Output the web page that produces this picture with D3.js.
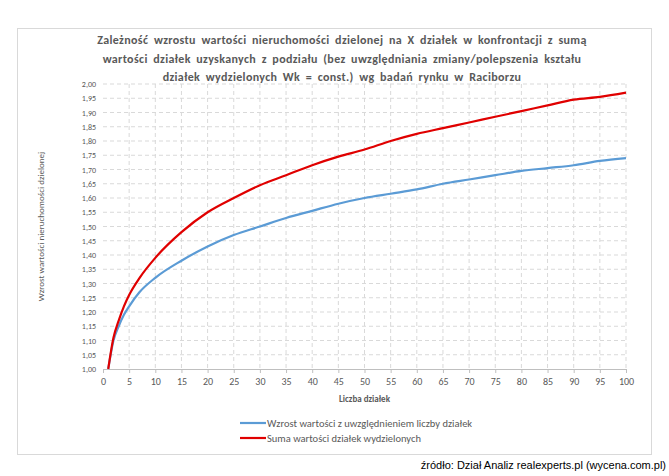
<!DOCTYPE html>
<html><head><meta charset="utf-8">
<script src="https://cdn.jsdelivr.net/npm/d3@7"></script>
<style>body{margin:0;background:#fff}</style>
</head><body><svg id="c" width="669" height="476"></svg>
<script>
// values
const xs      = [1, 2, 3, 4, 5, 7, 10, 15, 20, 25, 30, 35, 40, 45, 50, 55, 60, 65, 70, 75, 80, 85, 90, 95, 100];
const growth  = [1.00, 1.10, 1.15, 1.19, 1.22, 1.27, 1.32, 1.38, 1.43, 1.47, 1.50, 1.53, 1.555, 1.58, 1.60, 1.615, 1.63, 1.65, 1.665, 1.68, 1.695, 1.705, 1.715, 1.73, 1.74];
const sumVals = [1.00, 1.11, 1.17, 1.22, 1.26, 1.32, 1.39, 1.48, 1.55, 1.60, 1.645, 1.68, 1.715, 1.745, 1.77, 1.80, 1.825, 1.845, 1.865, 1.885, 1.905, 1.925, 1.945, 1.955, 1.97];
const seriesNames = ["Wzrost wartości z uwzględnieniem liczby działek", "Suma wartości działek wydzielonych"];
const seriesColors = ["#5b9bd5", "#e00000"];
const titleLines = [
  "Zależność wzrostu wartości nieruchomości dzielonej na X działek w konfrontacji z sumą",
  "wartości działek uzyskanych z podziału (bez uwzględniania zmiany/polepszenia kształu",
  "działek wydzielonych Wk = const.) wg badań rynku w Raciborzu"
];

const svg = d3.select("#c");
const font = "Calibri, 'Liberation Sans', Arial, sans-serif";
svg.append("rect").attr("x", 17.5).attr("y", 28.5).attr("width", 634).attr("height", 426)
   .attr("fill", "#fff").attr("stroke", "#d9d9d9");

svg.append("g").selectAll("text").data(titleLines).join("text")
   .attr("x", 342).attr("y", (d, i) => 44 + i * 18.5).attr("text-anchor", "middle")
   .attr("font-family", font).attr("font-size", 12).attr("font-weight", "bold").attr("fill", "#595959")
   .attr("word-spacing", 2.5).attr("letter-spacing", 0.35)
   .text(d => d);

const x = d3.scaleLinear().domain([0, 100]).range([103, 626]);
const y = d3.scaleLinear().domain([1, 2]).range([369, 84]);

const xt = d3.range(0, 101, 5), yt = d3.range(1, 2.001, 0.05);
const grid = svg.append("g").attr("stroke", "#d9d9d9").attr("stroke-dasharray", "4,3");
grid.selectAll(".v").data(xt.slice(1)).join("line")
    .attr("x1", d => x(d)).attr("x2", d => x(d)).attr("y1", y(2)).attr("y2", y(1));
grid.selectAll(".h").data(yt.slice(1)).join("line")
    .attr("x1", x(0)).attr("x2", x(100)).attr("y1", d => y(d)).attr("y2", d => y(d));

const xa = svg.append("g").attr("transform", `translate(0,${y(1)})`)
   .call(d3.axisBottom(x).tickValues(xt).tickSize(4).tickSizeOuter(0));
const ya = svg.append("g").attr("transform", `translate(${x(0)},0)`)
   .call(d3.axisLeft(y).tickValues(yt).tickSize(0).tickFormat(d => d3.format(".2f")(d).replace(".", ",")));
[xa, ya].forEach(a => {
  a.selectAll("path,line").attr("stroke", "#bfbfbf");
  a.selectAll("text").attr("font-family", font).attr("font-size", a === xa ? 10 : 8).attr("fill", "#595959");
});
ya.select(".domain").remove();
xa.selectAll("text").attr("dy", "0.9em");
ya.selectAll("text").attr("dx", "-4");

svg.append("text").attr("x", x(50)).attr("y", 402).attr("text-anchor", "middle")
   .attr("font-family", font).attr("font-size", 9).attr("font-weight", "bold").attr("fill", "#595959")
   .text("Liczba działek");
svg.append("text").attr("transform", `translate(44,${y(1.5)}) rotate(-90)`).attr("text-anchor", "middle")
   .attr("font-family", font).attr("font-size", 9).attr("fill", "#595959")
   .text("Wzrost wartości nieruchomości dzielonej");

const line = d3.line().x((d, i) => x(xs[i])).y(d => y(d)).curve(d3.curveMonotoneX);
[growth, sumVals].forEach((s, i) => {
  svg.append("path").datum(s).attr("d", line).attr("fill", "none")
     .attr("stroke", seriesColors[i]).attr("stroke-width", 2.2);
});

const lg = svg.append("g").selectAll("g").data(seriesNames).join("g")
   .attr("transform", (d, i) => `translate(240,${423 + i * 15})`);
lg.append("line").attr("x1", 0).attr("x2", 26).attr("stroke", (d, i) => seriesColors[i]).attr("stroke-width", 2.2);
lg.append("text").attr("x", 27).attr("dy", "0.35em").attr("font-family", font).attr("font-size", 10.5)
  .attr("fill", "#595959").text(d => d);

svg.append("text").attr("x", 666).attr("y", 469).attr("text-anchor", "end")
   .attr("font-family", "'Liberation Sans', Arial, sans-serif").attr("font-size", 11).attr("fill", "#000")
   .text("źródło: Dział Analiz realexperts.pl (wycena.com.pl)");
</script></body></html>
